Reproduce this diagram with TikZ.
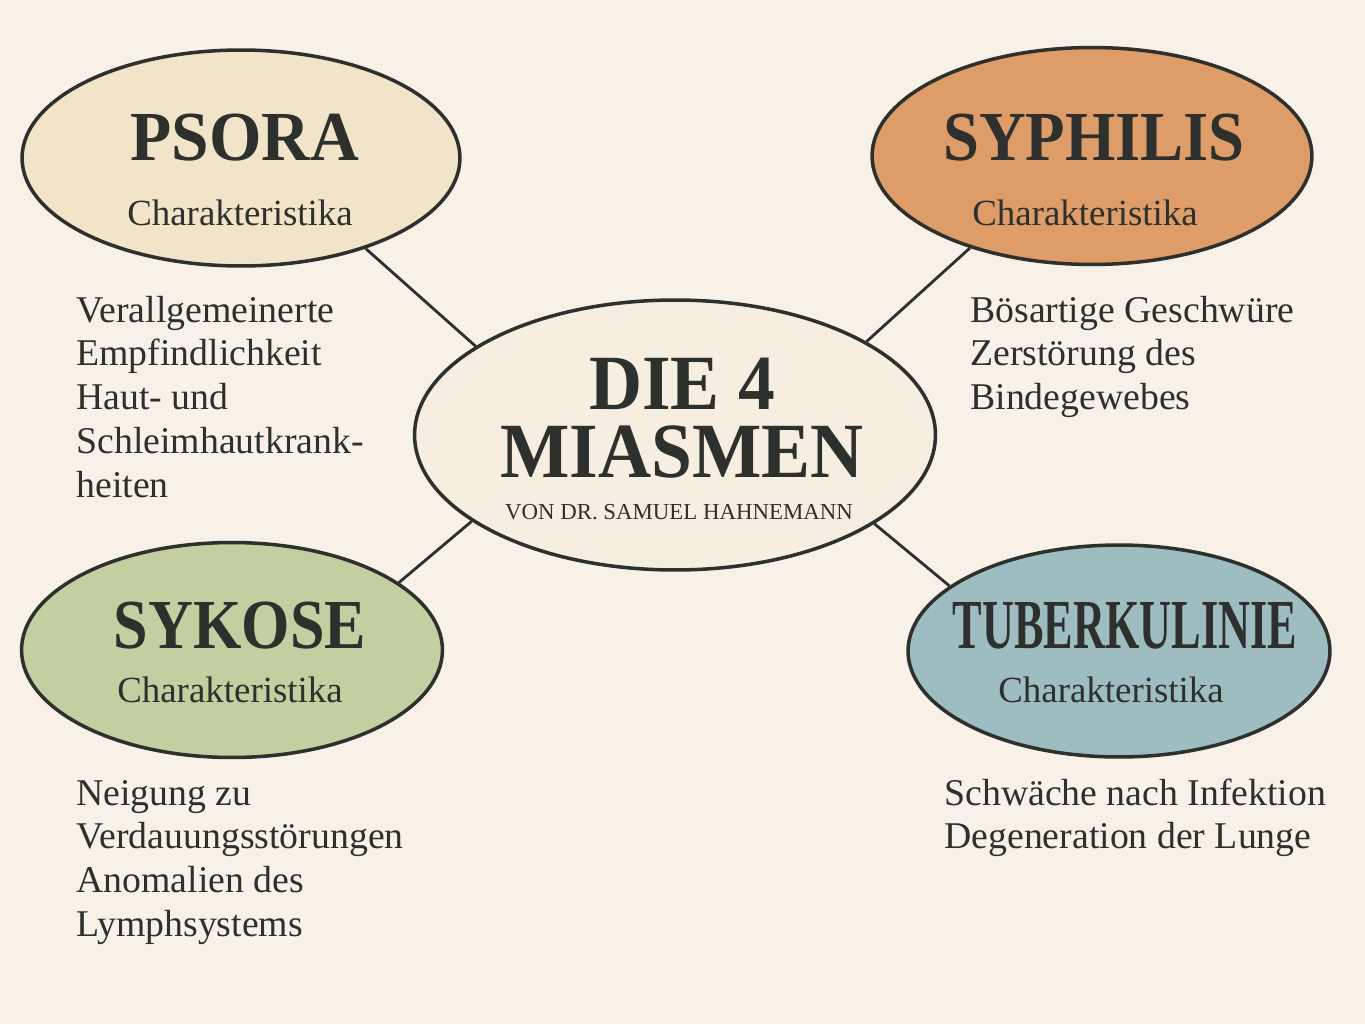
\documentclass[tikz,border=0pt]{standalone}
\usepackage{fontspec}
\setmainfont{Liberation Serif}
\usepackage{graphicx}
\usepackage{xcolor}
\usetikzlibrary{shapes.geometric}

\definecolor{bgcream}{HTML}{F7F1E7}
\definecolor{ink}{HTML}{2D302C}
\definecolor{psoracol}{HTML}{F2E4C8}
\definecolor{syphcol}{HTML}{DE9C68}
\definecolor{maincol}{HTML}{F6EEE1}
\definecolor{sykcol}{HTML}{C3CFA0}
\definecolor{tubcol}{HTML}{9EBDC0}

\tikzset{
  miasm/.style={ellipse, draw=ink, line width=2pt, inner sep=0pt},
  head/.style={font=\fontsize{40}{40}\selectfont\bfseries, text=ink, inner sep=0pt, anchor=base},
  title/.style={font=\fontsize{44.5}{38.6}\selectfont\bfseries, text=ink, inner sep=0pt, align=center},
  byline/.style={font=\fontsize{13}{15}\selectfont, text=ink, inner sep=0pt, anchor=base},
  sub/.style={font=\fontsize{21}{25}\selectfont, text=ink, inner sep=0pt, anchor=base},
  desc/.style={font=\fontsize{21.5}{25}\selectfont, text=ink, inner sep=0pt, anchor=base west, text width=9cm, align=flush left},
  link/.style={draw=ink, line width=1.6pt}
}

\begin{document}
\begin{tikzpicture}[x=0.02cm, y=-0.02cm]
\fill[bgcream] (0,0) rectangle (1365,1024);
\useasboundingbox (0,0) rectangle (1365,1024);

% ellipses
\node[miasm, fill=psoracol, minimum width=8.76cm, minimum height=4.32cm] (psora) at (241,158) {};
\node[miasm, fill=syphcol, minimum width=8.8cm, minimum height=4.34cm] (syph) at (1092,156) {};
\node[miasm, fill=maincol, minimum width=10.42cm, minimum height=5.4cm] (main) at (675,435) {};
\node[miasm, fill=sykcol, minimum width=8.42cm, minimum height=4.3cm] (syk) at (232,650) {};
\node[miasm, fill=tubcol, minimum width=8.44cm, minimum height=4.24cm] (tub) at (1119,651) {};

% connectors
\draw[link] (psora.-36) -- (main.156);
\draw[link] (syph.217) -- (main.26);
\draw[link] (syk.22) -- (main.203);
\draw[link] (tub.159) -- (main.-24);

% centre
\node[title] (main-t) at (682,418) {\scalebox{0.94}[1]{DIE 4}\\\scalebox{0.94}[1]{MIASMEN}};
\node[byline] (main-c) at (679,519) {VON DR. SAMUEL HAHNEMANN};

% headings
\node[head] (psora-h) at (245,160) {\scalebox{0.96}[1]{PSORA}};
\node[sub] (psora-s) at (240,225) {Charakteristika};
\node[head] (syph-h) at (1094,160) {\scalebox{0.92}[1]{SYPHILIS}};
\node[sub] (syph-s) at (1085,225) {Charakteristika};
\node[head] (syk-h) at (240,648) {\scalebox{0.885}[1]{SYKOSE}};
\node[sub] (syk-s) at (230,702) {Charakteristika};
\node[head] (tub-h) at (1125,648) {\scalebox{0.63}[1]{TUBERKULINIE}};
\node[sub] (tub-s) at (1111,702) {Charakteristika};

% descriptions
\node[desc] (psora-d) at (76,322) {Verallgemeinerte\\Empfindlichkeit\\Haut- und\\Schleimhautkrank-\\heiten};
\node[desc] (syph-d) at (970,322) {Bösartige Geschwüre\\Zerstörung des\\Bindegewebes};
\node[desc] (syk-d) at (76,805) {Neigung zu\\Verdauungsstörungen\\Anomalien des\\Lymphsystems};
\node[desc] (tub-d) at (944,805) {Schwäche nach Infektion\\Degeneration der Lunge};
\end{tikzpicture}
\end{document}
